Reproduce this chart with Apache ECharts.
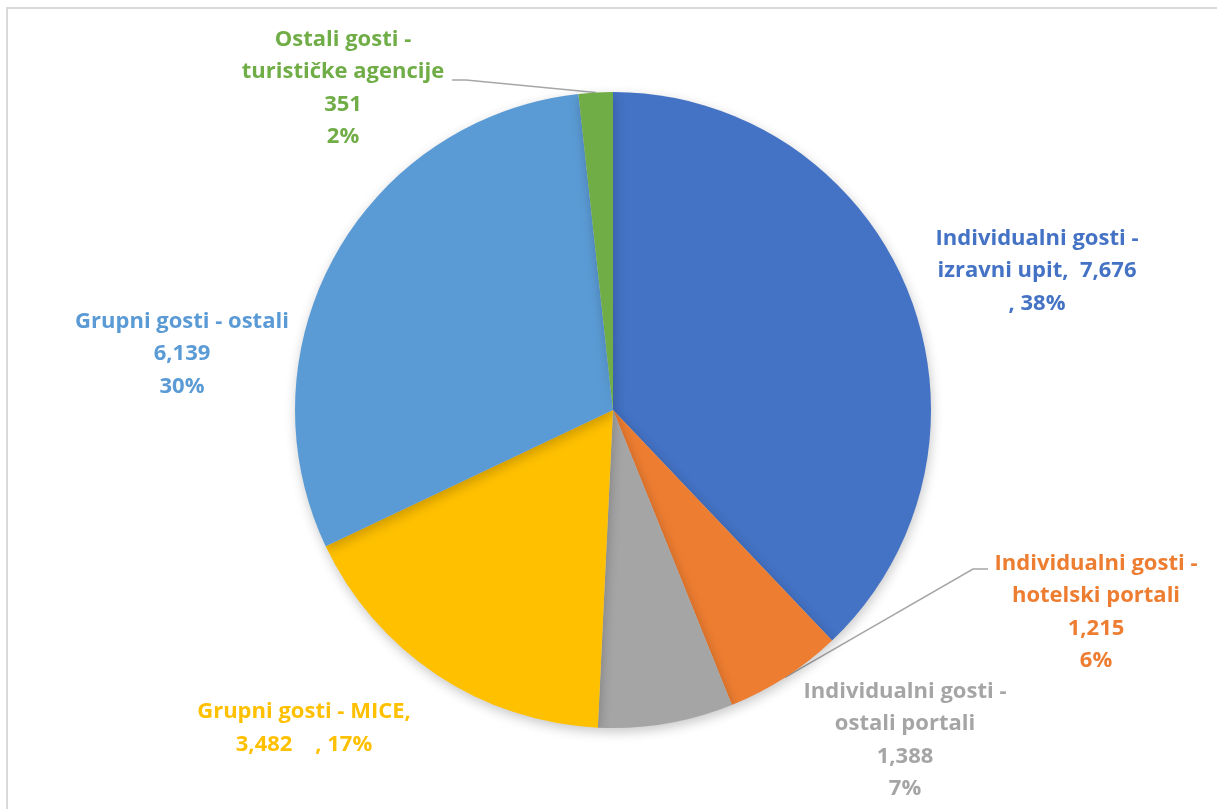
<!DOCTYPE html>
<html>
<head>
<meta charset="utf-8">
<script src="https://cdn.jsdelivr.net/npm/echarts@6/dist/echarts.min.js"></script>
<style>
html,body{margin:0;padding:0;background:#fff;}
#c{width:1217px;height:809px;}
</style>
</head>
<body>
<div id="c"></div>
<script>
// Data
const categories = [
  'Individualni gosti - izravni upit',
  'Individualni gosti - hotelski portali',
  'Individualni gosti - ostali portali',
  'Grupni gosti - MICE',
  'Grupni gosti - ostali',
  'Ostali gosti - turističke agencije'
];
const values = [7676, 1215, 1388, 3482, 6139, 351];
const colors = ['#4472C4', '#ED7D31', '#A5A5A5', '#FFC000', '#5B9BD5', '#70AD47'];

// label text layout (line breaks of category names, as in the original)
const nameLines = [
  ['Individualni gosti -', 'izravni upit,'],
  ['Individualni gosti -', 'hotelski portali'],
  ['Individualni gosti -', 'ostali portali'],
  ['Grupni gosti - MICE,'],
  ['Grupni gosti - ostali'],
  ['Ostali gosti -', 'turističke agencije']
];
const labelStyle = ['inlineValue', 'stack', 'stack', 'inlineBoth', 'stack', 'stack'];

// label placement (px) and leader lines
const labelPos = [
  [1037, 271], [1096, 612], [905, 740], [304, 728], [182, 354], [343, 88]
];
const leaderLines = {
  1: [[973, 569], [988, 569]],
  5: [[466, 80], [452, 80]]
};

function fmtNum(v){ return v.toLocaleString('en-US'); }

function labelText(p){
  const i = p.dataIndex;
  const nl = nameLines[i];
  const pct = Math.round(p.percent) + '%';
  const v = fmtNum(p.value);
  if (labelStyle[i] === 'inlineValue') {
    return nl[0] + '\n' + nl[1] + '  ' + v + '\n, ' + pct;
  }
  if (labelStyle[i] === 'inlineBoth') {
    return nl[0] + '\n' + v + '    , ' + pct;
  }
  return nl.join('\n') + '\n' + v + '\n' + pct;
}

const data = categories.map((c, i) => ({
  name: c,
  value: values[i],
  itemStyle: { color: colors[i] },
  label: { color: colors[i] },
  labelLine: { show: !!leaderLines[i] }
}));

const chart = echarts.init(document.getElementById('c'), null, {renderer: 'canvas'});
chart.setOption({
  animation: false,
  backgroundColor: '#fff',
  graphic: [{
    type: 'rect',
    shape: { x: 7, y: 8, width: 1230, height: 820 },
    style: { fill: 'none', stroke: '#d9d9d9', lineWidth: 2 },
    silent: true
  }],
  series: [{
    type: 'pie',
    center: [613, 410],
    radius: 318,
    startAngle: 90,
    clockwise: true,
    avoidLabelOverlap: false,
    data: data,
    itemStyle: {
      borderWidth: 0,
      shadowBlur: 12,
      shadowColor: 'rgba(0,0,0,0.22)',
      shadowOffsetX: 1,
      shadowOffsetY: 4
    },
    emphasis: { disabled: true },
    label: {
      show: true,
      position: 'outside',
      formatter: labelText,
      fontFamily: 'Open Sans',
      fontWeight: 'bold',
      fontSize: 22,
      lineHeight: 32.5,
      align: 'center'
    },
    labelLine: {
      show: true,
      lineStyle: { color: '#a6a6a6', width: 1.5 }
    },
    labelLayout: function (params) {
      const i = params.dataIndex;
      const out = {
        x: labelPos[i][0],
        y: labelPos[i][1],
        align: 'center',
        verticalAlign: 'middle'
      };
      if (leaderLines[i] && params.labelLinePoints) {
        out.labelLinePoints = [params.labelLinePoints[0]].concat(leaderLines[i]);
      }
      return out;
    }
  }]
});
</script>
</body>
</html>
